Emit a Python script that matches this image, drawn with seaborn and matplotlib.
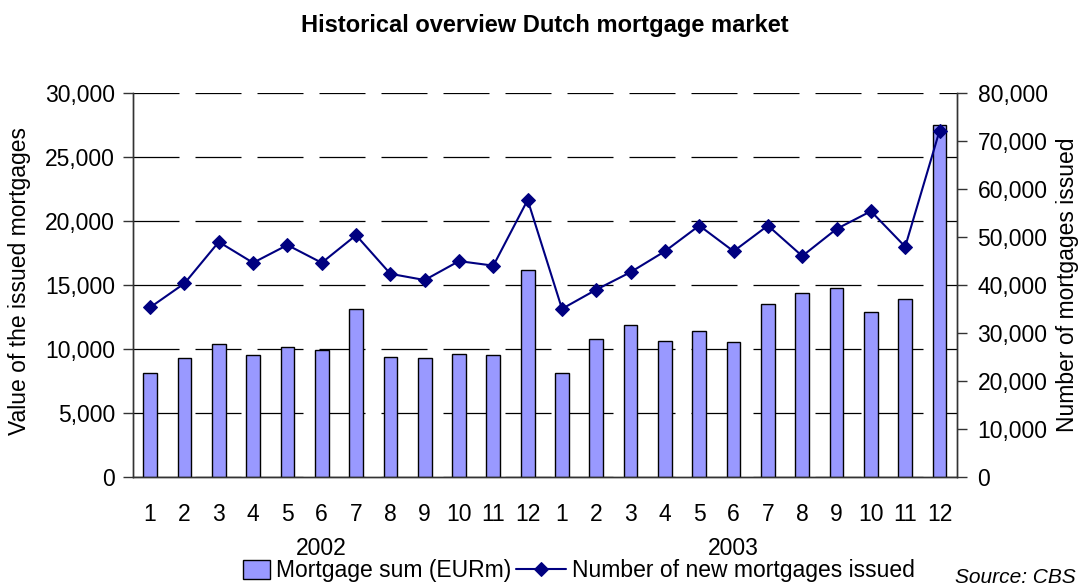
import numpy as np
import pandas as pd
import matplotlib
matplotlib.use("Agg")
import matplotlib.pyplot as plt
import matplotlib.transforms as mtransforms
from matplotlib.patches import Rectangle
from matplotlib.legend_handler import HandlerPatch
from matplotlib.ticker import FuncFormatter, FixedLocator, MultipleLocator
import seaborn as sns

# ---- data ----
months = [1, 2, 3, 4, 5, 6, 7, 8, 9, 10, 11, 12] * 2
years = ["2002", "2003"]
mortgage_sum = [8150, 9270, 10390, 9500, 10130, 9890, 13150, 9390, 9270, 9630, 9500, 16150,
                8140, 10780, 11900, 10650, 11400, 10520, 13520, 14400, 14770, 12890, 13910, 27550]
new_mortgages = [35350, 40350, 49000, 44650, 48350, 44650, 50400, 42350, 41050, 45000, 44050, 57750,
                 35050, 39050, 42700, 47050, 52400, 47050, 52400, 46050, 51700, 55400, 48000, 72150]

pos = list(range(len(months)))
df = pd.DataFrame({"pos": pos, "sum": mortgage_sum, "num": new_mortgages})

sns.set_style("white")
plt.rcParams["font.family"] = ["Liberation Sans", "DejaVu Sans"]
for k in ["text.color", "axes.labelcolor", "xtick.color", "ytick.color"]:
    plt.rcParams[k] = "black"

FS = 16.5
BAR_COLOR = "#9999FF"

fig = plt.figure(figsize=(10.81, 5.86), dpi=100)
ax = fig.add_axes([0.123, 0.186, 0.762, 0.655])

sns.barplot(data=df, x="pos", y="sum", ax=ax, color=BAR_COLOR, saturation=1,
            width=0.4, edgecolor="black", linewidth=1.0, zorder=3)

ax2 = ax.twinx()
sns.lineplot(data=df, x="pos", y="num", ax=ax2, color="#000080", linewidth=1.5,
             marker="D", markersize=7.5, markeredgecolor="#000080",
             label="Number of new mortgages issued", legend=False)

ax.set_xlim(-0.5, len(pos) - 0.5)
ax.set_ylim(0, 30000)
ax2.set_ylim(0, 80000)

fmt = FuncFormatter(lambda v, p: f"{int(v):,}")
ax.yaxis.set_major_locator(MultipleLocator(5000))
ax.yaxis.set_major_formatter(fmt)
ax2.yaxis.set_major_locator(MultipleLocator(10000))
ax2.yaxis.set_major_formatter(fmt)

# grid
ax.set_axisbelow(True)
ax.yaxis.grid(True, color="black", linewidth=0.9, linestyle=(0, (36.8, 12.8)))
ax.xaxis.grid(False)

# x ticks: boundaries as major, labels on minor
ax.xaxis.set_major_locator(FixedLocator(np.arange(-0.5, len(pos), 1.0)))
ax.xaxis.set_major_formatter(FuncFormatter(lambda v, p: ""))
ax.xaxis.set_minor_locator(FixedLocator(pos))
ax.xaxis.set_minor_formatter(FuncFormatter(lambda v, p: str(months[int(round(v))])))
ax.tick_params(axis="x", which="major", direction="inout", length=17, width=1, color="#333333")
ax.tick_params(axis="x", which="minor", length=0, pad=19, labelsize=FS)
ax.tick_params(axis="y", which="major", direction="out", length=7, width=1, color="#333333",
               labelsize=FS, left=True, pad=6)
ax2.tick_params(axis="y", which="major", direction="out", length=7, width=1, color="#333333",
                labelsize=FS, right=True, pad=8)

for a in (ax, ax2):
    for s in a.spines.values():
        s.set_color("#333333")
        s.set_linewidth(1.0)
    a.spines["top"].set_visible(False)

ax.set_xlabel("")
ax.set_ylabel("Value of the issued mortgages", fontsize=FS)
ax2.set_ylabel("Number of mortgages issued", fontsize=FS)
ax.yaxis.set_label_coords(-0.124, 0.51)
ax2.yaxis.set_label_coords(1.121, 0.5)

# year labels
trans = mtransforms.blended_transform_factory(ax.transData, ax.transAxes)
for i, yr in enumerate(years):
    ax.text(5 + 12 * i, -0.185, yr, transform=trans, ha="center", va="center", fontsize=FS)

fig.text(0.504, 0.957, "Historical overview Dutch mortgage market", ha="center", va="center",
         fontsize=17, fontweight="bold")


def small_rect(legend, orig_handle, xdescent, ydescent, width, height, fontsize):
    w = height * 1.7
    return Rectangle((xdescent + width - w, -ydescent - 1), w, height + 2)


bar_handle = Rectangle((0, 0), 1, 1, facecolor=BAR_COLOR, edgecolor="black", linewidth=1.0)
h2, l2 = ax2.get_legend_handles_labels()
fig.legend([bar_handle] + h2, ["Mortgage sum (EURm)"] + l2, loc="center",
           bbox_to_anchor=(0.525, 0.026), ncol=2,
           frameon=False, fontsize=FS, handlelength=2.2, handletextpad=0.25, columnspacing=0.2,
           borderaxespad=0, handler_map={Rectangle: HandlerPatch(patch_func=small_rect)})

fig.text(0.995, 0.015, "Source: CBS", ha="right", va="center", fontsize=15, style="italic")

fig.savefig("out.png", dpi=100)
